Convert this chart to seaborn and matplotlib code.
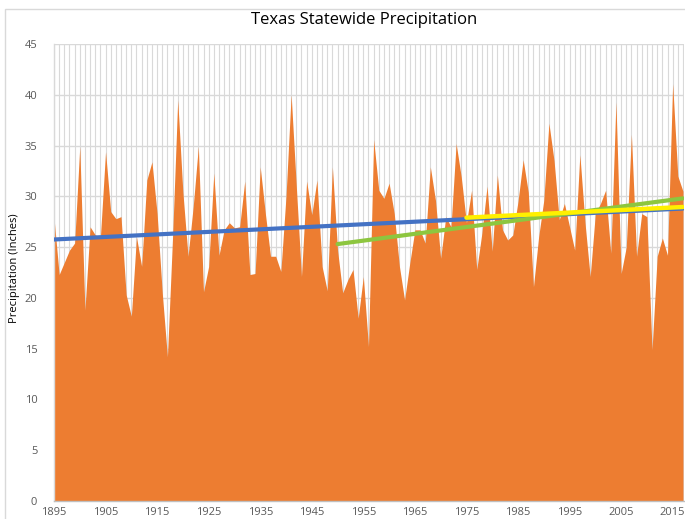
import numpy as np
import pandas as pd
import matplotlib
matplotlib.use("Agg")
import matplotlib.pyplot as plt
import seaborn as sns
from matplotlib.patches import Rectangle

years = list(range(1895, 2018))
precip = [
    27.9, 22.3, 23.5, 24.7, 25.4, 34.9, 18.8, 27.0, 26.2, 26.0,  # 1895-1904
    34.4, 28.5, 27.8, 28.0, 20.3, 18.2, 26.0, 23.1, 31.6, 33.4,  # 1905-1914
    28.3, 20.5, 14.2, 26.0, 39.5, 30.4, 24.1, 29.0, 34.9, 20.6,  # 1915-1924
    23.1, 32.3, 24.2, 26.7, 27.4, 26.9, 27.0, 31.5, 22.3, 22.4,  # 1925-1934
    32.9, 28.3, 24.1, 24.1, 22.6, 30.0, 40.0, 31.0, 22.1, 31.5,  # 1935-1944
    28.2, 31.6, 23.1, 20.7, 32.9, 24.7, 20.5, 21.8, 22.8, 18.0,  # 1945-1954
    22.1, 15.2, 35.6, 30.6, 29.8, 31.3, 28.3, 23.1, 19.8, 23.4,  # 1955-1964
    26.7, 26.7, 25.4, 32.9, 29.6, 23.9, 28.0, 27.0, 35.2, 31.9,  # 1965-1974
    27.4, 30.6, 22.8, 26.4, 31.0, 24.6, 32.1, 26.7, 25.7, 26.2,  # 1975-1984
    29.5, 33.6, 30.4, 21.1, 26.0, 29.6, 37.2, 33.5, 27.7, 29.3,  # 1985-1994
    27.0, 24.7, 34.1, 27.4, 22.1, 28.3, 29.3, 30.6, 24.4, 39.3,  # 1995-2004
    22.4, 25.0, 36.1, 24.1, 28.3, 28.0, 14.9, 24.1, 25.9, 24.2,  # 2005-2014
    41.1, 32.0, 30.5,                                            # 2015-2017
]

# Trend lines (endpoints)
trend_all_years = [1895, 2017]
trend_all_vals = [25.75, 28.8]
trend_1950_years = [1950, 2017]
trend_1950_vals = [25.3, 29.8]
trend_1975_years = [1975, 2017]
trend_1975_vals = [27.9, 28.95]

xtick_years = list(range(1895, 2016, 10))
yticks = list(range(0, 50, 5))

title = "Texas Statewide Precipitation"
ylabel = "Precipitation (Inches)"

df = pd.DataFrame({"year": years, "precip": precip})

sns.set_theme(style="white")
plt.rcParams['font.family'] = ['Open Sans', 'DejaVu Sans']

fig = plt.figure(figsize=(6.85, 5.19), dpi=100)
ax = fig.add_axes([54/685, 18/519, (684-54)/685, (501-44)/519])

# grid
ax.set_xticks(xtick_years)
ax.set_xticks(years, minor=True)
ax.set_yticks(yticks)
ax.grid(which="major", axis="y", color="#d9d9d9", linewidth=1.0, zorder=0)
ax.grid(which="minor", axis="x", color="#d9d9d9", linewidth=0.8, zorder=0)
ax.grid(which="major", axis="x", color="#d9d9d9", linewidth=0.8, zorder=0)
ax.set_axisbelow(True)

ax.fill_between(df["year"], 0, df["precip"], color="#ED7D31", linewidth=0, zorder=2)

sns.lineplot(x=trend_all_years, y=trend_all_vals, ax=ax, color="#4472C4", linewidth=3.0, zorder=3)
sns.lineplot(x=trend_1950_years, y=trend_1950_vals, ax=ax, color="#8DC63F", linewidth=3.0, zorder=4)
sns.lineplot(x=trend_1975_years, y=trend_1975_vals, ax=ax, color="#FFF000", linewidth=3.2, zorder=5)

ax.set_xlim(1895, 2017.2)
ax.set_ylim(0, 45)

for s in ["top", "right"]:
    ax.spines[s].set_visible(False)
ax.spines["left"].set_color("#d9d9d9")
ax.spines["bottom"].set_color("#bfbfbf")
ax.spines["left"].set_linewidth(1.0)
ax.spines["bottom"].set_linewidth(1.0)

ax.tick_params(axis="both", which="both", length=0, labelsize=8, labelcolor="#595959")
ax.tick_params(axis="x", pad=4)
ax.tick_params(axis="y", pad=12)
ax.set_xlabel("")
ax.set_ylabel("")

fig.text(15/685, (519-268)/519, ylabel, rotation=90, ha="center", va="center",
         fontsize=8, color="#000000")
fig.text(0.5 + 22/685, (519-20)/519, title, ha="center", va="center", fontsize=12, color="#000000")

fig.patches.append(Rectangle((5/685, -0.05), 1.0, (519-9)/519 + 0.05, transform=fig.transFigure,
                             fill=False, edgecolor="#d9d9d9", linewidth=1.0))

fig.savefig("out.png", dpi=100)
